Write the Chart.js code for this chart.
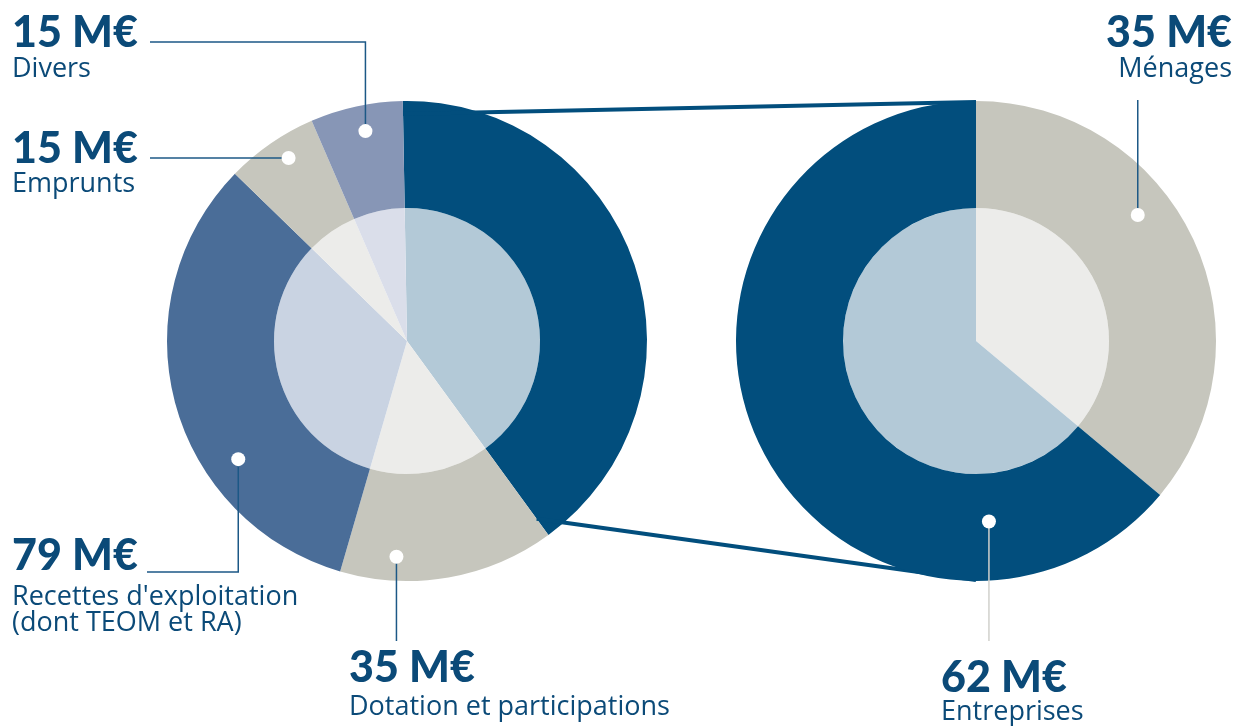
<!DOCTYPE html>
<html lang="fr">
<head>
<meta charset="utf-8">
<title>Recettes</title>
<script src="https://cdn.jsdelivr.net/npm/chart.js@4.4.1/dist/chart.umd.min.js"></script>
<style>
    html, body { margin: 0; padding: 0; background: #ffffff; }
    #wrap { position: relative; width: 1238px; height: 726px; overflow: hidden; }
    #wrap canvas { position: absolute; left: 0; top: 0; }
</style>
</head>
<body>
<div id="wrap">
    <canvas id="leftChart" width="1238" height="726"></canvas>
    <canvas id="rightChart" width="1238" height="726"></canvas>
</div>
<script>
// Left pie: all revenues (M€)
// first slice = Ménages + Entreprises, detailed on the right pie
const leftLabels = ['Ménages et entreprises', 'Dotation et participations', "Recettes d'exploitation (dont TEOM et RA)", 'Emprunts', 'Divers'];
const leftValues = [97, 35, 79, 15, 15];

// Right pie: detail of the first left slice (M€)
const rightLabels = ['Ménages', 'Entreprises'];
const rightValues = [35, 62];

// ── colours ──
const DARK = '#024e7d';
const TEXT = '#0b4a78';
const leftOuter = ['#024e7d', '#c6c6bd', '#4a6d98', '#c6c6bd', '#8796b6'];
const leftInner = ['#b3c9d7', '#ececea', '#c9d3e2', '#ececea', '#dadeea'];
const rightOuter = ['#c6c6bd', '#024e7d'];
const rightInner = ['#ececea', '#b3c9d7'];

// label callouts: dot angle (deg, clockwise from top) and radius, then leader path
const leftCallouts = [
    null,
    { angle: -177.2, r: 216, path: [['v', 641]], x: 349, valueY: 682, nameY: 715, lines: ['Dotation et participations'], color: '#1c5886' },
    { angle: 235, r: 206, path: [['v', 572], ['h', 147]], x: 12, valueY: 570, nameY: 605, lines: ["Recettes d'exploitation", '(dont TEOM et RA)'], color: '#1c5886' },
    { angle: -32.9, r: 218, path: [['h', 150]], x: 12, valueY: 163, nameY: 192, lines: ['Emprunts'], color: '#1c5886' },
    { angle: -11.2, r: 214, path: [['v', 42], ['h', 150]], x: 12, valueY: 47, nameY: 77, lines: ['Divers'], color: '#1c5886' }
];
const rightCallouts = [
    { angle: 52.1, r: 205, path: [['v', 100]], x: 1232, align: 'right', valueY: 47, nameY: 77, lines: ['Ménages'], color: '#1c5886' },
    { angle: 175.9, r: 181, path: [['v', 641]], x: 941, valueY: 692, nameY: 720, lines: ['Entreprises'], color: '#d0d0cc' }
];

const VALUE_FONT = '900 43px Lato, "DejaVu Sans", sans-serif';
const NAME_FONT = '400 27px "Open Sans", Lato, sans-serif';

function centerOf(chart) {
    const arc = chart.getDatasetMeta(0).data[0];
    return { x: arc.x, y: arc.y, r: arc.outerRadius };
}

function polar(c, angleDeg, r) {
    const a = angleDeg * Math.PI / 180;
    return { x: c.x + r * Math.sin(a), y: c.y - r * Math.cos(a) };
}

// draws leader lines, white dots and the text labels
function calloutPlugin(callouts, values) {
    return {
        id: 'callouts',
        afterDraw(chart) {
            const ctx = chart.ctx;
            const c = centerOf(chart);
            ctx.save();
            callouts.forEach((co, i) => {
                if (!co) return;
                const dot = polar(c, co.angle, co.r);
                // leader
                ctx.strokeStyle = co.color;
                ctx.lineWidth = 1.5;
                ctx.beginPath();
                ctx.moveTo(dot.x, dot.y);
                let px = dot.x, py = dot.y;
                co.path.forEach(step => {
                    if (step[0] === 'v') py = step[1]; else px = step[1];
                    ctx.lineTo(px, py);
                });
                ctx.stroke();
                // dot
                ctx.fillStyle = '#ffffff';
                ctx.beginPath();
                ctx.arc(dot.x, dot.y, 7, 0, Math.PI * 2);
                ctx.fill();
                // text
                ctx.fillStyle = TEXT;
                ctx.textAlign = co.align || 'left';
                ctx.textBaseline = 'alphabetic';
                ctx.font = VALUE_FONT;
                ctx.fillText(values[i] + ' M€', co.x, co.valueY);
                ctx.font = NAME_FONT;
                co.lines.forEach((line, k) => {
                    ctx.fillText(line, co.x, co.nameY + k * 26);
                });
            });
            ctx.restore();
        }
    };
}

function pieDatasets(values, outer, inner) {
    return [
        { data: values, backgroundColor: outer, borderWidth: 0, hoverOffset: 0, weight: 107 },
        { data: values, backgroundColor: inner, borderWidth: 0, hoverOffset: 0, weight: 133 }
    ];
}

function pieOptions(padding, rotation) {
    return {
        responsive: false,
        animation: false,
        events: [],
        rotation: rotation,
        layout: { padding: padding },
        plugins: {
            legend: { display: false },
            tooltip: { enabled: false }
        }
    };
}

// Left pie
const leftChart = new Chart(document.getElementById('leftChart').getContext('2d'), {
    type: 'pie',
    data: { labels: leftLabels, datasets: pieDatasets(leftValues, leftOuter, leftInner) },
    options: pieOptions({ left: 167, right: 591, top: 101, bottom: 145 }, -1),
    plugins: [calloutPlugin(leftCallouts, leftValues)]
});

// connector lines from the dark left slice to the right pie
const connectorPlugin = {
    id: 'connector',
    beforeDatasetsDraw(chart) {
        const ctx = chart.ctx;
        const l = centerOf(leftChart);
        const r = centerOf(chart);
        const arc = leftChart.getDatasetMeta(0).data[0];
        const startDeg = arc.startAngle * 180 / Math.PI + 90;
        const endDeg = arc.endAngle * 180 / Math.PI + 90;
        const p1 = polar(l, startDeg, l.r - 13);
        const p2 = polar(l, endDeg, l.r - 20);
        ctx.save();
        ctx.strokeStyle = DARK;
        ctx.lineWidth = 4;
        ctx.beginPath();
        ctx.moveTo(p1.x, p1.y);
        ctx.lineTo(r.x, r.y - r.r + 1);
        ctx.moveTo(p2.x, p2.y);
        ctx.lineTo(r.x, r.y + r.r - 1);
        ctx.stroke();
        ctx.restore();
    }
};

// Right pie
const rightChart = new Chart(document.getElementById('rightChart').getContext('2d'), {
    type: 'pie',
    data: { labels: rightLabels, datasets: pieDatasets(rightValues, rightOuter, rightInner) },
    options: pieOptions({ left: 736, right: 22, top: 101, bottom: 145 }, 0),
    plugins: [connectorPlugin, calloutPlugin(rightCallouts, rightValues)]
});
</script>
</body>
</html>
